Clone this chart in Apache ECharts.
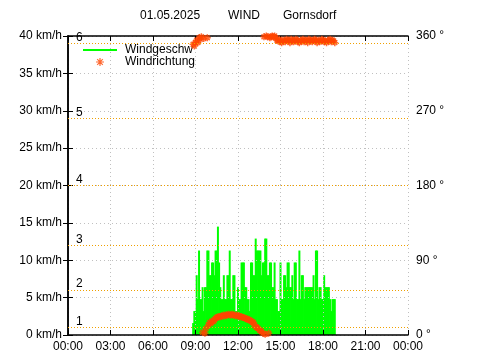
<!DOCTYPE html>
<html>
<head>
<meta charset="utf-8">
<script src="https://cdn.jsdelivr.net/npm/echarts@6/dist/echarts.min.js"></script>
<style>html,body{margin:0;padding:0;background:#fff}#c{width:480px;height:360px}</style>
</head>
<body>
<div id="c"></div>
<script>
var titleParts = ['01.05.2025', 'WIND', 'Gornsdorf'];
var xTickLabels = ['00:00','03:00','06:00','09:00','12:00','15:00','18:00','21:00','00:00'];
var beaufortKmh = [1, 6, 12, 20, 29, 39];
var beaufortLabels = ['1','2','3','4','5','6'];
var times = [
'08:50','08:55','09:00','09:05','09:10','09:15','09:20','09:25','09:30','09:35',
'09:40','09:45','09:50','09:55','10:00','10:05','10:10','10:15','10:20','10:25',
'10:30','10:35','10:40','10:45','10:50','10:55','11:00','11:05','11:10','11:15',
'11:20','11:25','11:30','11:35','11:40','11:45','11:50','11:55','12:00','12:05',
'12:10','12:15','12:20','12:25','12:30','12:35','12:40','12:45','12:50','12:55',
'13:00','13:05','13:10','13:15','13:20','13:25','13:30','13:35','13:40','13:45',
'13:50','13:55','14:00','14:05','14:10','14:15','14:20','14:25','14:30','14:35',
'14:40','14:45','14:50','14:55','15:00','15:05','15:10','15:15','15:20','15:25',
'15:30','15:35','15:40','15:45','15:50','15:55','16:00','16:05','16:10','16:15',
'16:20','16:25','16:30','16:35','16:40','16:45','16:50','16:55','17:00','17:05',
'17:10','17:15','17:20','17:25','17:30','17:35','17:40','17:45','17:50','17:55',
'18:00','18:05','18:10','18:15','18:20','18:25','18:30','18:35','18:40','18:45',
'18:50'];
var speeds = [
1.6,3.2,3.2,8.0,4.8,11.3,4.8,4.8,6.4,3.2,
6.4,6.4,11.3,11.3,8.0,8.0,9.7,9.7,8.0,11.3,
11.3,14.5,9.7,6.4,4.8,4.8,8.0,4.8,4.8,8.0,
8.0,11.3,4.8,4.8,8.0,8.0,3.2,3.2,6.4,4.8,
4.8,9.7,9.7,9.7,6.4,6.4,4.8,4.8,3.2,9.7,
9.7,8.0,8.0,12.9,11.3,11.3,11.3,11.3,8.0,9.7,
9.7,12.9,12.9,8.0,8.0,9.7,9.7,6.4,6.4,9.7,
4.8,4.8,3.2,3.2,9.7,4.8,4.8,8.0,8.0,6.4,
9.7,9.7,6.4,6.4,8.0,4.8,9.7,9.7,4.8,4.8,
11.3,4.8,8.0,8.0,4.8,6.4,6.4,6.4,6.4,6.4,
6.4,6.4,8.0,4.8,11.3,11.3,4.8,6.4,6.4,4.8,
4.8,8.0,6.4,6.4,6.4,6.4,4.8,3.2,4.8,4.8,
4.8];
var directions = [
350,348,352,355,352,358,356,359,3,357,
2,8,358,12,15,14,17,16,18,20,
21,22,22,22,23,23,24,23,24,24,
25,24,24,25,24,24,23,24,23,23,
22,22,21,21,20,20,19,18,18,17,
16,15,12,10,9,8,6,5,4,2,
359,1,360,359,2,358,359,360,359,360,
358,355,354,356,353,352,355,354,353,356,
355,354,352,356,355,353,354,356,355,353,
352,355,354,356,353,355,354,352,356,355,
354,353,355,356,354,352,355,353,354,356,
355,353,354,352,355,354,356,353,355,354,
352];

function toHours(t){var p=t.split(':');return +p[0]+(+p[1])/60;}
var FONT = 'Liberation Sans, Arial, sans-serif';
var ASTER = 'path://M5 0L5 10M0 5L10 5M1.5 1.5L8.5 8.5M8.5 1.5L1.5 8.5';
var GREEN = '#00ff00', ORANGE = '#ff4500', DOT = '#f0a000';
var HALF = 2.5/60; // half of the 5-minute sample spacing, in hours

var chart = echarts.init(document.getElementById('c'), null, {renderer:'canvas'});
var gridStyle = {show:true, lineStyle:{color:'#c0c0c0', type:[1,3], width:1}};
var tTitle = {fontSize:12, fontWeight:'normal', color:'#000', fontFamily:FONT};
var tick = {show:true, inside:true, length:5, lineStyle:{color:'#000', width:1}};
var option = {
  animation:false,
  backgroundColor:'#fff',
  textStyle:{fontFamily:FONT},
  title:[
    {text:titleParts[0], left:140, top:10, padding:0, textStyle:tTitle},
    {text:titleParts[1], left:228, top:10, padding:0, textStyle:tTitle},
    {text:titleParts[2], left:283, top:10, padding:0, textStyle:tTitle}
  ],
  legend:{
    left:83, top:44, padding:0, orient:'vertical', itemWidth:34, itemHeight:8, itemGap:0,
    textStyle:{fontSize:12, color:'#000', fontFamily:FONT, padding:[0,0,0,3]},
    data:[
      {name:'Windgeschw', icon:'path://M0 0H34V2H0Z', itemStyle:{color:GREEN}},
      {name:'Windrichtung', icon:ASTER, itemStyle:{color:ORANGE, borderColor:ORANGE, borderWidth:1.2}}
    ]
  },
  grid:{left:68, right:72, top:36, bottom:25, containLabel:false},
  xAxis:[
    {type:'value', min:0, max:24, interval:3, position:'bottom', z:3,
     axisLine:{show:true, onZero:false, lineStyle:{color:'#000', width:1.5}},
     axisTick:tick,
     axisLabel:{color:'#000', fontSize:12, margin:6, fontFamily:FONT,
       formatter:function(v){return xTickLabels[Math.round(v/3)];}},
     splitLine:gridStyle},
    {type:'value', min:0, max:24, interval:3, position:'top', z:3,
     axisLine:{show:true, onZero:false, lineStyle:{color:'#000', width:1.5}},
     axisTick:tick,
     axisLabel:{show:false}, splitLine:{show:false}}
  ],
  yAxis:[
    {type:'value', min:0, max:40, interval:5, position:'left', z:3,
     axisLine:{show:true, lineStyle:{color:'#000', width:1.5}},
     axisTick:tick,
     axisLabel:{color:'#000', fontSize:12, margin:6, fontFamily:FONT, formatter:'{value} km/h'},
     splitLine:gridStyle},
    {type:'value', min:0, max:360, interval:45, position:'right', z:3,
     axisLine:{show:true, lineStyle:{color:'#000', width:1.5}},
     axisTick:tick,
     axisLabel:{color:'#000', fontSize:12, margin:8, fontFamily:FONT,
       formatter:function(v){return v%90===0 ? v+' °' : '';}},
     splitLine:{show:false}}
  ],
  series:[
    {name:'Windgeschw', type:'custom', xAxisIndex:0, yAxisIndex:0, z:2,
     itemStyle:{color:GREEN},
     encode:{x:0, y:1},
     data:times.map(function(t,i){return [toHours(t), speeds[i]];}),
     renderItem:function(params, api){
       var x = api.value(0), y = api.value(1);
       var p0 = api.coord([x - HALF, y]);
       var p1 = api.coord([x + HALF, 0]);
       return {type:'rect',
         shape:{x:p0[0]-0.4, y:p0[1], width:(p1[0]-p0[0])+0.8, height:p1[1]-p0[1]},
         style:{fill:GREEN}};
     },
     markLine:{silent:true, symbol:'none', z:6,
       lineStyle:{color:DOT, type:[1,2], width:1},
       label:{show:true, position:'insideStartTop', distance:[8,0], color:'#000', fontSize:12, fontFamily:FONT},
       data:beaufortKmh.map(function(v,i){return {yAxis:v, label:{formatter:beaufortLabels[i]}};})
     }},
    {name:'Windrichtung', type:'scatter', xAxisIndex:0, yAxisIndex:1, z:4,
     symbol:ASTER, symbolSize:7,
     itemStyle:{color:ORANGE, borderColor:ORANGE, borderWidth:1.5},
     data:times.map(function(t,i){return [toHours(t), directions[i]];})}
  ]
};
chart.setOption(option);
</script>
</body>
</html>
